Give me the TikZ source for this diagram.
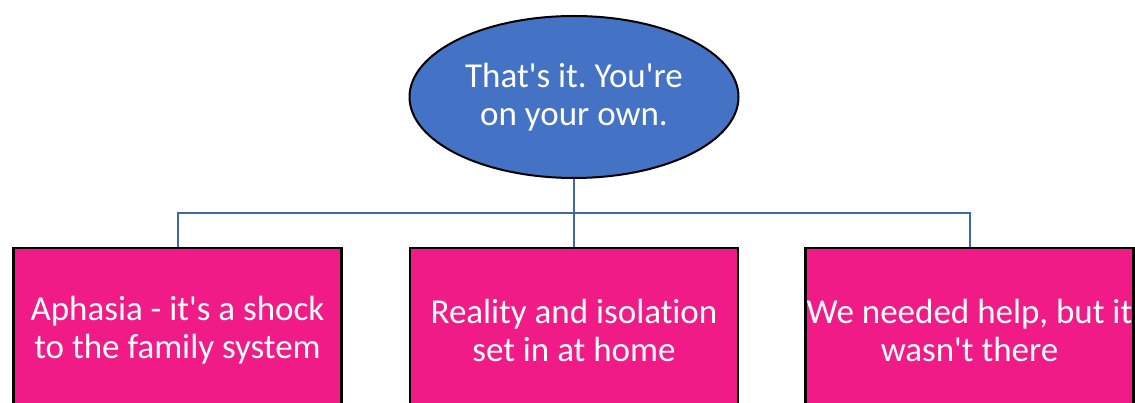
\documentclass[tikz,border=0pt]{standalone}
\usepackage{fontspec}
\setmainfont{Carlito}[Ligatures={NoCommon}]
\usetikzlibrary{shapes.geometric}
\definecolor{ellblue}{RGB}{68,114,196}
\definecolor{boxpink}{RGB}{240,27,135}
\definecolor{linkblue}{RGB}{64,104,168}
\newcommand{\apos}{\textquotesingle}
\frenchspacing
\tikzset{
  x=1pt,y=-1pt,
  topnode/.style={ellipse,draw=black,line width=2pt,fill=ellblue,minimum width=329pt,minimum height=162pt,inner sep=0pt,text=white,align=center,font=\fontsize{35}{38.5}\selectfont},
  pinkbox/.style={rectangle,draw=black,line width=2.5pt,fill=boxpink,minimum width=328pt,minimum height=164pt,inner sep=0pt,text=white,align=center,font=\fontsize{35}{38}\selectfont,anchor=north},
  link/.style={draw=linkblue,line width=2pt}
}
\begin{document}
\begin{tikzpicture}
\useasboundingbox[fill=white] (0,0) rectangle (1135,403);
\node[topnode] (top) at (574,97) {That\apos s it. You\apos re\\on your own.};
\node[pinkbox] (b1) at (177.5,247) {Aphasia - it\apos s a shock\\to the family system};
\node[pinkbox] (b2) at (574,247) {Reality and isolation\\set in at home};
\node[pinkbox] (b3) at (969.5,247) {We needed help, but it\\wasn\apos t there};
\coordinate (hub) at (574,213);
\draw[link] (top.south) -- (hub);
\draw[link] (b1.north) |- (hub) -| (b3.north);
\draw[link] (hub) -- (b2.north);
\end{tikzpicture}
\end{document}
